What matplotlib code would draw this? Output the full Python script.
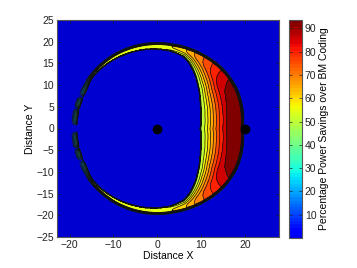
import numpy as np
import matplotlib
matplotlib.use('Agg')
import matplotlib.pyplot as plt
from matplotlib.colors import ListedColormap, Normalize
from matplotlib.cm import ScalarMappable

plt.rcParams['font.family'] = ['Liberation Sans', 'DejaVu Sans']
plt.rcParams['font.size'] = 7.5

# node positions (black dots)
node_x = [0, 20]
node_y = [0, 0]

# crescent geometry (upper half, mirrored below)
arc_theta = [0, 15, 27, 35, 40, 47, 57, 64, 70, 80, 90, 105, 120, 135, 143,
             148, 152, 155, 157, 160, 164, 166, 168, 171, 175, 178, 180]
arc_r_inner = [9.8, 10.3, 11.1, 11.9, 12.6, 13.6, 15.4, 16.7, 17.6, 18.1, 18.3, 18.5, 18.7, 18.9, 18.9,
               18.6, 18.4, 18.4, 18.4, 18.4, 18.4, 18.4, 18.4, 18.4, 18.4, 18.4, 18.4]
arc_r_outer = [19.7, 20.2, 20.5, 20.5, 20.5, 20.4, 20.2, 20.1, 20.0, 19.9, 19.9, 19.9, 19.9, 19.8, 19.8,
               19.7, 19.7, 19.7, 19.7, 19.7, 19.7, 19.7, 19.7, 19.7, 19.7, 19.7, 19.7]
arc_ramp = [0.6, 0.6, 0.6, 0.6, 0.6, 0.6, 0.6, 0.6, 0.6, 0.6, 0.6, 0.6, 0.6, 0.6, 0.8,
            1.1, 1.3, 1.3, 1.3, 1.3, 1.3, 1.3, 1.3, 1.3, 1.3, 1.3, 1.3]
arc_s_inner = [49, 49, 49, 49, 49, 49, 48, 47, 48, 53, 56, 57, 57, 56, 52,
               45, 45, 30, 0, 45, 45, 0, 45, 45, 42, 0, 0]
arc_s_outer = [93.6, 93.4, 92, 90, 87, 82, 75, 70, 65, 60, 58, 58, 57, 56, 52,
               45, 45, 30, 0, 45, 45, 0, 45, 45, 42, 0, 0]

# savings rise across the crescent (fraction of depth -> fraction of rise), read at y = 0
depth_frac = [0, 0.13, 0.24, 0.35, 0.46, 0.57, 0.64, 0.75, 0.88, 1.0]
rise_frac = [0, 0.17, 0.36, 0.53, 0.69, 0.83, 0.92, 0.97, 0.99, 1.0]

levels = list(range(0, 95, 5)) + [94]
cbar_ticks = [10, 20, 30, 40, 50, 60, 70, 80, 90]
vmax = 93.6

# grid
gx = np.arange(-25, 30.001, 0.1)
gy = np.arange(-25, 25.001, 0.1)
X, Y = np.meshgrid(gx, gy)
r = np.hypot(X, Y)
th = np.degrees(np.abs(np.arctan2(Y, X)))
rin = np.interp(th, arc_theta, arc_r_inner)
rout = np.interp(th, arc_theta, arc_r_outer)
rmp = np.interp(th, arc_theta, arc_ramp)
s_in = np.interp(th, arc_theta, arc_s_inner)
s_out = np.interp(th, arc_theta, arc_s_outer)
r1 = rout - rmp
u = np.clip((r - rin) / np.maximum(r1 - rin, 1e-6), 0, 1)
S = s_in + (s_out - s_in) * np.interp(u, depth_frac, rise_frac)
fade = np.clip((rout - r) / rmp, 0, 1)
Z = np.where(r >= rin, S * fade, 0.0)

jet = plt.get_cmap('jet')
cmap = ListedColormap(jet(np.linspace(0.1, 1.0, 64)))
norm = Normalize(0, vmax)
band_colors = [cmap(norm(lv)) for lv in levels[:-1]]
band_colors[0] = (0.0, 0.0, 0.82, 1.0)
band_colors[-1] = cmap(1.0)

fig = plt.figure(figsize=(3.57, 2.68), dpi=100)
ax = fig.add_axes([57 / 357, 31 / 268, 222 / 357, 217 / 268])
ax.set_facecolor((0.0, 0.0, 0.82))
ax.contourf(X, Y, Z, levels=levels, colors=band_colors)
ax.contour(X, Y, Z, levels=levels[1:-1], colors='#111111', linewidths=0.5)
ax.plot(node_x, node_y, 'o', color='k', markersize=6, zorder=5)

ax.set_xlim(-22.9, 27.8)
ax.set_ylim(-25, 25)
ax.set_xticks([-20, -10, 0, 10, 20])
ax.set_yticks(np.arange(-25, 26, 5))
ax.set_xticklabels(['\u221220', '\u221210', '0', '10', '20'])
ax.set_yticklabels(['\u221225', '\u221220', '\u221215', '\u221210', '\u22125', '0', '5', '10', '15', '20', '25'])
ax.tick_params(direction='in', top=True, right=True, length=2.5, width=0.5, pad=2, colors='#222222')
for sp in ax.spines.values():
    sp.set_color('#555555')
    sp.set_linewidth(0.8)
ax.set_xlabel('Distance X', labelpad=1)
ax.set_ylabel('Distance Y', labelpad=1)

cax = fig.add_axes([289 / 357, 30 / 268, 13 / 357, 218 / 268])
sm = ScalarMappable(norm=norm, cmap=cmap)
cb = fig.colorbar(sm, cax=cax, ticks=cbar_ticks)
cb.outline.set_edgecolor('#555555')
cb.outline.set_linewidth(0.8)
cax.tick_params(direction='in', left=True, right=True, length=2.5, width=0.5, pad=2, colors='#222222')
cb.set_label('Percentage Power Savings over BM Coding', labelpad=2)

fig.savefig('out.png', dpi=100)
